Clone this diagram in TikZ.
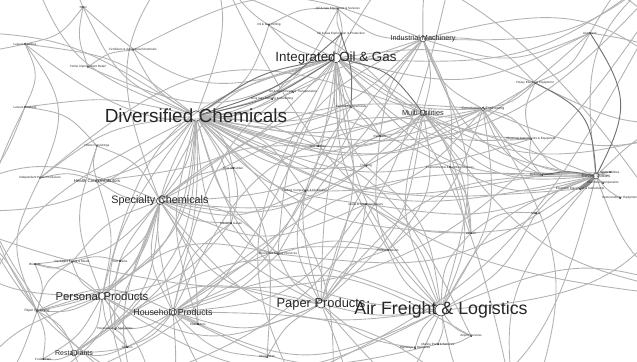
\documentclass[tikz,border=0pt]{standalone}
\usepackage{fontspec}
\setmainfont{Liberation Sans}
\usetikzlibrary{backgrounds}

\begin{document}
\begin{tikzpicture}[x=0.03cm,y=-0.03cm,
        link/.style={draw=black!30,line width=0.75pt,looseness=1.3},
        dlink/.style={draw=black!55,line width=0.8pt,looseness=1.3},
        hub/.style={circle,draw=black!75,line width=0.5pt,inner sep=0pt,minimum size=#1},
        dot/.style={circle,fill=black!90,inner sep=0pt,minimum size=1.7pt},
        tag/.style={text=black!85,inner sep=0pt,font=\fontsize{2.6}{3}\selectfont}]
    \useasboundingbox (0,0) rectangle (637,362);
    %% Industries (large)
    \foreach \n/\x/\y/\s/\f/\t in {
        dc/196/116/9/16.2/Diversified Chemicals,
        iog/336/58/8/11.4/Integrated Oil \& Gas,
        im/423/39/5/6.2/Industrial Machinery,
        mu/423/113/5/6.3/Multi-Utilities,
        ce/483/109/3/3/Construction \& Engineering,
        eu/596/176/5/3.6/Electric Utilities,
        sc/160/201/6/9.2/Specialty Chemicals,
        pp/102/296/6/9.7/Personal Products,
        hp/173/312/6/7.5/Household Products,
        rs/74/353/5/6/Restaurants,
        ppr/321/304/7/11/Paper Products,
        af/441/310/10/15.2/Air Freight \& Logistics,
        pk/37/311/2/2.8/Paper Packaging,
        hcd/97/181/2.5/3.7/Health Care Distributors}{
        \node[inner sep=0pt,text=black!85,font=\fontsize{\f}{\f}\selectfont] (\n-t) at (\x,\y) {\t};
        \node[hub=\s pt] (\n) at (\x,\y) {};
    }
    %% Industries (small)
    \foreach \n/\x/\y/\t in {
        b1/83/7/Steel, b2/25/44/Leisure Facilities,
        b3/133/50/Fertilizers \& Agricultural Chemicals, b4/88/67/Home Improvement Retail,
        b5/25/107/Leisure Products, b6/272/99/Oil \& Gas Refining \& Marketing,
        b7/293/92/Oil \& Gas Storage \& Transportation, b8/97/146/Home Furnishings,
        b9/318/146/Gas Utilities, b10/233/168/Tires \& Rubber,
        b11/40/178/Independent Power Producers, b12/269/25/Oil \& Gas Drilling,
        b13/338/9/Oil \& Gas Equipment \& Services, b14/341/34/Oil \& Gas Exploration \& Production,
        b15/590/33/Aluminum, b16/535/83/Heavy Electrical Equipment,
        b17/351/107/Commodity Chemicals, b18/380/136/Railroads,
        b19/531/139/Electrical Components \& Equipment, b20/366/166/Trucking,
        b21/450/167/Environmental \& Facilities Services, b22/542/175/Building Products,
        b23/610/172/Water Utilities, b24/603/183/Electronic Components,
        b25/580/189/Electronic Equipment \& Instruments, b26/620/198/Semiconductor Equipment,
        b27/305/191/Trading Companies \& Distributors, b28/231/223/Industrial Gases,
        b29/278/254/Diversified Support Services, b30/35/264/Brewers,
        b31/72/262/Packaged Foods \& Meats, b32/120/261/Soft Drinks,
        b33/115/329/Housewares \& Specialties, b34/198/324/Distributors,
        b35/127/347/Tobacco, b36/43/359/Food Retail,
        b37/267/357/Drug Retail, b38/366/204/Metal \& Glass Containers,
        b39/536/213/Marine, b40/471/233/Airlines,
        b41/388/250/Forest Products, b42/471/336/Airport Services,
        b43/438/344/Marine Ports \& Services, b44/415/348/Highways \& Railtracks}{
        \node[tag] (\n-t) at (\x,\y) {\t};
        \node[dot] (\n) at (\x,\y) {};
    }
    %% Ends outside the frame
    \coordinate (o1) at (-80,30);
    \coordinate (o2) at (-80,210);
    \coordinate (o3) at (-50,420);
    \coordinate (o4) at (150,440);
    \coordinate (o5) at (330,450);
    \coordinate (o6) at (520,440);
    \coordinate (o7) at (720,300);
    \coordinate (o8) at (720,120);
    \coordinate (o9) at (690,-50);
    \coordinate (o10) at (460,-70);
    \coordinate (o11) at (200,-70);
    \coordinate (o12) at (20,-60);
    %% Links
    \begin{pgfonlayer}{background}
    \begin{scope}
    \clip (0,0) rectangle (637,362);
    \foreach \a/\b/\c in {
        dc/im/-25, dc/mu/-12, dc/ce/-18, dc/eu/-20, dc/sc/15, dc/pp/25, dc/hp/-20,
        dc/ppr/-30, dc/af/-35, dc/rs/30, dc/pk/35, dc/hcd/15, dc/b1/20, dc/b2/-15,
        dc/b3/15, dc/b5/-10, dc/b6/-15, dc/b7/-10, dc/b9/10, dc/b10/20, dc/b11/-15,
        dc/b12/-20, dc/b13/-25, dc/b15/-30, dc/b16/-25, dc/b17/-15, dc/b19/-20,
        dc/b21/15, dc/b22/-20, dc/b25/-15, dc/b27/20, dc/b28/15, dc/b29/-15,
        dc/b33/20, dc/b34/-15, dc/b37/20, dc/b38/-20, dc/b40/-20, dc/b42/25,
        dc/b20/-20, dc/b18/-25,
        dc/o1/-15, dc/o2/20, dc/o3/-25, dc/o4/-30, dc/o5/25, dc/o11/-20, dc/o12/25,
        dc/o9/-30,
        iog/im/-15, iog/ce/-20, iog/eu/-25, iog/sc/-25, iog/pp/-30, iog/hp/25,
        iog/ppr/15, iog/af/-15, iog/b6/-20, iog/b7/15, iog/b12/20, iog/b13/-15,
        iog/b14/20, iog/b17/-20, iog/b9/10, iog/b18/-15, iog/b20/-20, iog/b15/-20,
        iog/b16/15, iog/b19/-25, iog/b1/30, iog/b2/35, iog/b4/25, iog/b40/25,
        iog/b41/-15, iog/b27/20, iog/o9/-20, iog/o10/15, iog/o11/20, iog/o8/-25,
        iog/o5/-30, iog/o3/25, hcd/iog/-20,
        im/mu/15, im/ce/-20, im/eu/-30, im/b15/-20, im/b16/25, im/sc/30, im/hp/-30,
        im/ppr/-20, im/af/20, im/b18/-15, im/b13/20, im/b21/15, im/o10/20, im/o9/-20,
        im/o8/30, im/b3/-25, im/b29/-30,
        mu/ce/-15, mu/eu/-25, mu/b9/20, mu/b11/-30, mu/b23/-20, mu/b20/15, mu/b18/20,
        mu/af/-20, mu/ppr/20, mu/sc/25, mu/hp/-25, mu/o7/-20, mu/b40/15, mu/b19/-10,
        mu/b41/25,
        ce/eu/-25, ce/b16/-15, ce/b19/20, ce/b22/-20, ce/af/20, ce/ppr/-25, ce/b27/25,
        ce/o8/-20, ce/o6/25, ce/sc/-20, ce/b41/15, ce/b29/-25,
        eu/b23/10, eu/b24/-15, eu/b26/-10, eu/b19/25, eu/b39/-15, eu/b40/20,
        eu/af/-20, eu/ppr/-25, eu/hp/-20, eu/sc/-25, eu/b21/20, eu/b38/15, eu/o8/20,
        eu/o7/-25, eu/o9/30, eu/o6/-25, eu/b29/20, eu/o5/30,
        sc/pp/15, sc/hp/-20, sc/rs/25, sc/pk/30, sc/ppr/-25, sc/af/-30, sc/hcd/15,
        sc/b8/-20, sc/b10/15, sc/b28/-15, sc/b29/20, sc/b30/20, sc/b31/-15, sc/b32/15,
        sc/b33/-20, sc/b34/15, sc/b27/-20, sc/o2/-25, sc/o4/-20, sc/o3/25, sc/o11/30,
        sc/b9/20, sc/b38/-25, sc/b20/-20,
        pp/hp/-15, pp/rs/20, pp/pk/15, pp/ppr/-25, pp/af/-30, pp/b30/-15, pp/b31/20,
        pp/b32/-15, pp/b33/20, pp/b35/-20, pp/b36/15, pp/o3/-20, pp/o4/20, pp/o2/25,
        pp/b8/20, pp/hcd/-15, pp/b28/-20, pp/b29/25,
        hp/ppr/-20, hp/af/-25, hp/rs/20, hp/b33/15, hp/b35/15, hp/b37/-20, hp/b28/20,
        hp/b29/-15, hp/b27/-20, hp/o4/15, hp/o5/-25, hp/o6/20, hp/b42/25, hp/b43/-20,
        hp/pk/-25, hp/b38/-25, hp/b41/20,
        pk/rs/20, pk/b30/-20, pk/b36/15, pk/o2/-20, pk/o3/20, pk/b31/20, pk/b11/25,
        pk/b5/30,
        rs/b36/15, rs/b35/-15, rs/o4/-20, rs/ppr/25, rs/af/30,
        ppr/af/-10, ppr/b29/15, ppr/b37/-15, ppr/b41/20, ppr/b38/-15, ppr/b27/20,
        ppr/o5/20, ppr/o6/-15, ppr/b44/-15, ppr/b17/25,
        af/b42/-15, af/b43/15, af/b44/-15, af/b40/20, af/b39/-15, af/b41/15,
        af/b20/-20, af/b18/25, af/o6/-20, af/o7/20, af/o5/15, af/b38/-20, af/b21/-20,
        af/o8/-30,
        hcd/b8/15, hcd/b11/-15,
        b1/b2/20, b1/b4/-15, b2/b5/25, b2/b11/30, b3/b4/-15, b5/b8/20, b12/b13/15,
        b13/b14/-15, b15/b16/20, b16/b19/-20, b17/b18/15, b30/b31/-20, b31/b32/15,
        b33/b35/20, b42/b43/15, b40/b39/20, b22/b19/25, b1/o12/-20, b2/o1/20,
        b15/o9/20, b16/o8/-15, b5/o2/25, b15/o8/25, b10/b28/15, b28/b29/-20,
        b29/b41/15, b21/b40/15, b38/b40/-15,
        o1/o5/-30, o12/o6/35, o11/o7/-30, o2/o9/-40, o3/o10/-35, o4/o9/-20,
        o10/o7/40, o1/o6/-40, o12/o7/30}
        \draw[link] (\a) to[bend left=\c] (\b);
    \foreach \a/\b/\c in {
        dc/iog/-10, dc/iog/12, iog/mu/20, eu/b22/-10, eu/b15/-30, eu/b16/-30,
        eu/b25/15, dc/b14/-12, b14/b17/10}
        \draw[dlink] (\a) to[bend left=\c] (\b);
    %% Bundles
    \draw[draw=black!45,line width=2.5pt] (eu) -- (b25);
    \draw[draw=black!25,line width=3pt] (hp) -- (b34);
    \end{scope}
    \end{pgfonlayer}
\end{tikzpicture}
\end{document}
